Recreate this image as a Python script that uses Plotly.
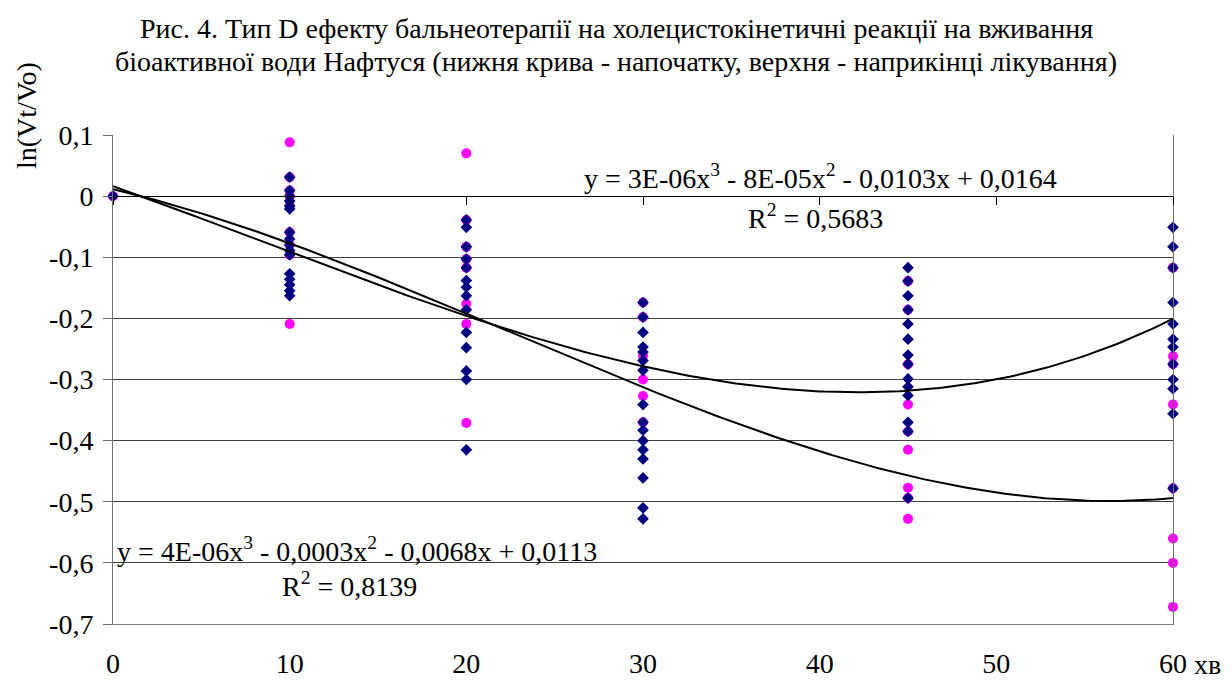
import numpy as np
import plotly.graph_objects as go

# ---------------- data ----------------
times = [0, 10, 20, 30, 45, 60]

# navy diamonds (end of treatment)
end_0 = [0.0]
end_10 = [0.031, 0.009, 0.0, -0.008, -0.016, -0.021, -0.059, -0.070, -0.080, -0.089,
          -0.096, -0.127, -0.136, -0.145, -0.155, -0.163]
end_20 = [-0.039, -0.051, -0.083, -0.103, -0.117, -0.138, -0.149, -0.163, -0.186,
          -0.223, -0.248, -0.286, -0.300, -0.415]
end_30 = [-0.174, -0.198, -0.223, -0.247, -0.255, -0.269, -0.285, -0.341, -0.370,
          -0.383, -0.400, -0.415, -0.430, -0.461, -0.510, -0.528]
end_45 = [-0.117, -0.139, -0.163, -0.186, -0.209, -0.234, -0.260, -0.275, -0.299,
          -0.312, -0.326, -0.370, -0.385, -0.494]
end_60 = [-0.051, -0.083, -0.117, -0.174, -0.209, -0.234, -0.247, -0.275, -0.300,
          -0.315, -0.356, -0.478]

# magenta circles (start of treatment)
start_0 = [0.0]
start_10 = [0.088, 0.031, 0.009, 0.0, -0.016, -0.059, -0.080, -0.096, -0.209]
start_20 = [0.070, -0.039, -0.083, -0.103, -0.117, -0.176, -0.209, -0.371]
start_30 = [-0.174, -0.198, -0.261, -0.300, -0.327, -0.370]
start_45 = [-0.139, -0.186, -0.275, -0.341, -0.385, -0.415, -0.477, -0.494, -0.528]
start_60 = [-0.117, -0.262, -0.275, -0.341, -0.478, -0.560, -0.600, -0.672]

# cubic trendline coefficients (a, b, c, d) as drawn
trend_end = [3.19e-6, -8.0e-5, -0.0103, 0.0164]
trend_start = [3.55e-6, -2.4e-4, -0.0068, 0.0113]

x_ticks = [0, 10, 20, 30, 40, 50, 60]
x_labels = ["0", "10", "20", "30", "40", "50", "60"]
y_ticks = [0.1, 0.0, -0.1, -0.2, -0.3, -0.4, -0.5, -0.6, -0.7]
y_labels = ["0,1", "0", "-0,1", "-0,2", "-0,3", "-0,4", "-0,5", "-0,6", "-0,7"]

title_l1 = "Рис. 4. Тип D ефекту бальнеотерапії на холецистокінетичні реакції на вживання"
title_l2 = "біоактивної води Нафтуся (нижня крива - напочатку, верхня - наприкінці лікування)"
eq_end = "y = 3E-06x<sup>3</sup> - 8E-05x<sup>2</sup> - 0,0103x + 0,0164"
r2_end = "R<sup>2</sup> = 0,5683"
eq_start = "y = 4E-06x<sup>3</sup> - 0,0003x<sup>2</sup> - 0,0068x + 0,0113"
r2_start = "R<sup>2</sup> = 0,8139"

# ---------------- figure ----------------
FONT = "Liberation Serif"
FS = 28


def flatten(groups):
    xs, ys = [], []
    for t, vals in zip(times, groups):
        xs += [t] * len(vals)
        ys += list(vals)
    return xs, ys


sx, sy = flatten([start_0, start_10, start_20, start_30, start_45, start_60])
ex, ey = flatten([end_0, end_10, end_20, end_30, end_45, end_60])

fig = go.Figure()
fig.add_trace(go.Scatter(x=sx, y=sy, mode="markers", cliponaxis=False,
                         marker=dict(symbol="circle", size=10, color="#FF00FF"),
                         showlegend=False))
fig.add_trace(go.Scatter(x=ex, y=ey, mode="markers", cliponaxis=False,
                         marker=dict(symbol="diamond", size=9, color="#000080"),
                         showlegend=False))

xx = np.linspace(0, 60, 241)
for coefs in (trend_end, trend_start):
    fig.add_trace(go.Scatter(x=xx, y=np.polyval(coefs, xx), mode="lines",
                             xaxis="x2", line=dict(color="black", width=2),
                             showlegend=False, hoverinfo="skip"))

# reference plot area (page pixels): left 113, right 1173, top 135, bottom 624
PL, PR, PT, PB = 113, 1173, 135, 624


def px(xp):
    return (xp - PL) / float(PR - PL)


def py(yp):
    return (PB - yp) / float(PB - PT)


ann = []


def add_text(text, xp, yp, size=FS, **kw):
    ann.append(dict(text=text, x=px(xp), y=py(yp), xref="paper", yref="paper",
                    xanchor="center", yanchor="middle", showarrow=False,
                    font=dict(family=FONT, size=size, color="black"), **kw))


add_text(eq_end, 820, 176)
add_text(r2_end, 815, 216)
add_text(eq_start, 357, 549)
add_text(r2_start, 349, 584)
add_text("ln(Vt/Vo)", 27, 116, textangle=-90)
add_text("хв", 1207, 664)
add_text(title_l1, 616, 28)
add_text(title_l2, 616, 62)

# the page body adds an 8px offset; the figure is sized to compensate
OFF = 8
fig.update_layout(
    width=1232 - OFF, height=681 - OFF,
    margin=dict(l=PL - OFF, r=1232 - PR, t=PT - OFF, b=681 - PB, pad=0),
    paper_bgcolor="white", plot_bgcolor="white",
    font=dict(family=FONT, size=FS, color="black"),
    annotations=ann,
    xaxis=dict(range=[0, 60], tickvals=x_ticks, ticktext=x_labels,
               showgrid=False, zeroline=False, showline=True,
               linecolor="#808080", linewidth=1, ticks="",
               ticklabelstandoff=14, automargin=False,
               tickfont=dict(family=FONT, size=FS, color="black")),
    xaxis2=dict(range=[0, 60], overlaying="x", anchor="free", position=0.875,
                side="bottom", tickvals=x_ticks, ticks="outside", ticklen=8,
                tickcolor="black", showticklabels=False, showline=True,
                linecolor="black", showgrid=False, zeroline=False,
                automargin=False),
    yaxis=dict(range=[-0.7, 0.1], tickvals=y_ticks, ticktext=y_labels,
               showgrid=True, gridcolor="#404040", gridwidth=1, zeroline=False,
               showline=True, linecolor="#707070", linewidth=1, mirror=True,
               ticks="outside", ticklen=9, tickcolor="#707070",
               ticklabelstandoff=4, automargin=False,
               tickfont=dict(family=FONT, size=FS, color="black")),
)

fig.write_html("out.html")
